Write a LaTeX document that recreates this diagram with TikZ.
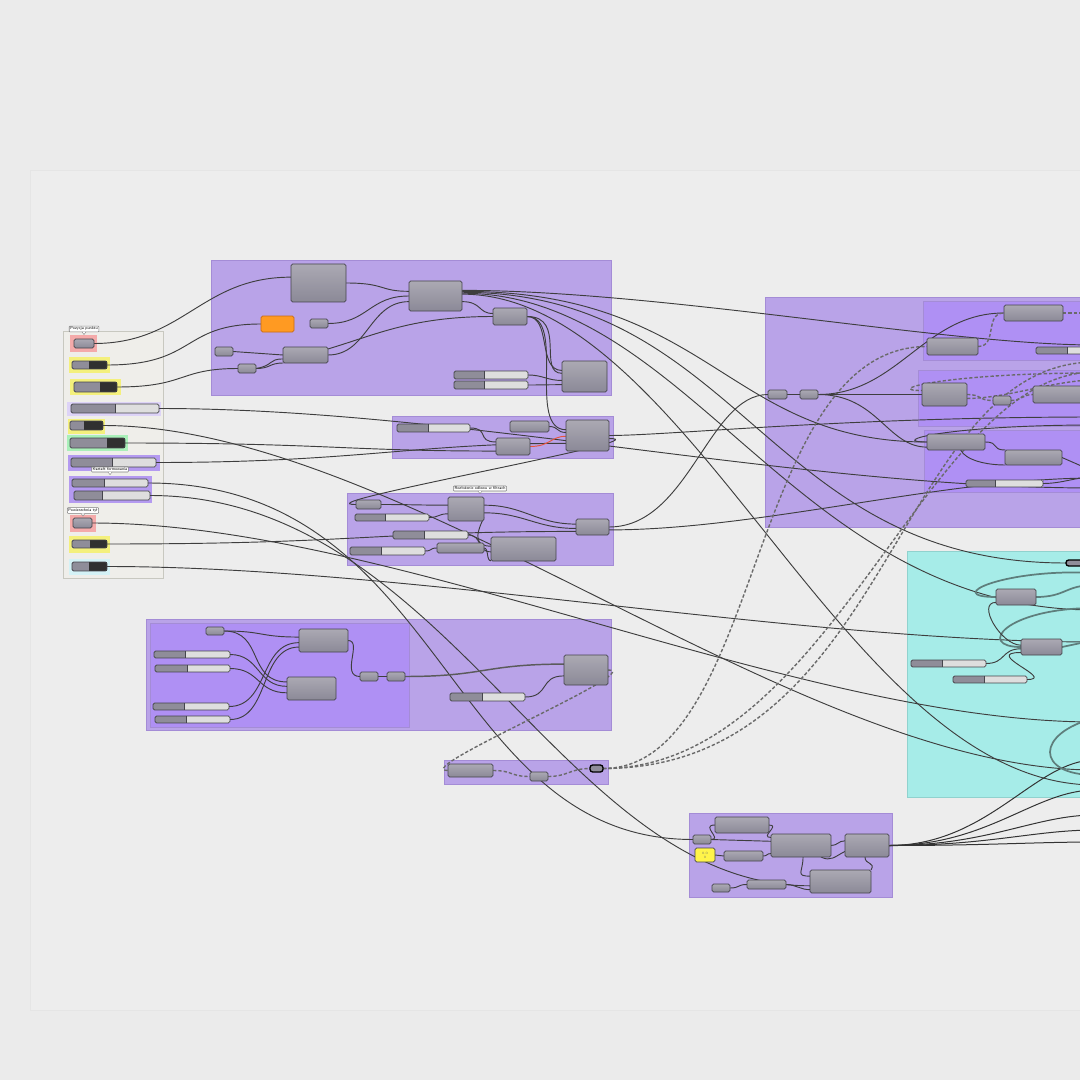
\documentclass[tikz,border=0pt]{standalone}
\usetikzlibrary{calc}
\definecolor{bgc}{HTML}{EBEBEB}
\definecolor{canv}{HTML}{EDEDED}
\definecolor{grp}{HTML}{B9A3E8}
\definecolor{grpd}{HTML}{A48CD6}
\definecolor{grpinc}{HTML}{AF90F4}
\definecolor{cyg}{HTML}{A6ECE8}
\definecolor{cygd}{HTML}{90D2CE}
\definecolor{pan}{HTML}{EFEEEA}
\definecolor{pand}{HTML}{C8C8C0}
\definecolor{pinkb}{HTML}{F4AAAA}
\definecolor{yelb}{HTML}{F4F07C}
\definecolor{greenb}{HTML}{A9F0B9}
\definecolor{lpurb}{HTML}{DDD3F7}
\definecolor{purb}{HTML}{B49AF0}
\definecolor{lcyb}{HTML}{D4F2F6}
\definecolor{comptop}{HTML}{ABA9B3}
\definecolor{compbot}{HTML}{8B8997}
\definecolor{compline}{HTML}{45454C}
\definecolor{sldark}{HTML}{8F8D99}
\definecolor{sllight}{HTML}{DEDEDE}
\definecolor{tgdark}{HTML}{303030}
\definecolor{wirec}{HTML}{3E3E3E}
\definecolor{dashc}{HTML}{6A6A6A}
\definecolor{tealw}{HTML}{5E7E7C}
\definecolor{redw}{HTML}{E8553C}
\definecolor{orb}{HTML}{FF9A22}
\definecolor{ord}{HTML}{C86A12}
\definecolor{ypan}{HTML}{FFF44A}
\pgfdeclarelayer{bgl}
\pgfdeclarelayer{wl}
\pgfsetlayers{bgl,wl,main}
\newcommand{\gbox}[6][comp]{\node[#1,minimum width={(#4-#2)*0.75pt},minimum height={(#5-#3)*0.75pt}] (#6) at ({(#2+#4)/2},{(#3+#5)/2}) {};}
\newcommand{\gslider}[6]{%
 \fill[sllight] (#1,#2) rectangle (#3,#4);
 \fill[sldark] (#1,#2) rectangle (#5,#4);
 \draw[compline,line width=0.4pt] (#5,#2) -- (#5,#4);
 \node[gframe,minimum width={(#3-#1)*0.75pt},minimum height={(#4-#2)*0.75pt}] (#6) at ({(#1+#3)/2},{(#2+#4)/2}) {};}
\newcommand{\gtoggle}[6]{%
 \fill[sldark] (#1,#2) rectangle (#5,#4);
 \fill[tgdark] (#5,#2) rectangle (#3,#4);
 \node[gframe,minimum width={(#3-#1)*0.75pt},minimum height={(#4-#2)*0.75pt}] (#6) at ({(#1+#3)/2},{(#2+#4)/2}) {};}
\begin{document}
\begin{tikzpicture}[x=0.75pt,y=-0.75pt,
 gframe/.style={draw=compline,line width=0.55pt,rounded corners=1.2pt,inner sep=0pt,outer sep=0pt},
 comp/.style={gframe,top color=comptop,bottom color=compbot},
 orangebox/.style={gframe,fill=orb,draw=ord},
 ypanel/.style={gframe,fill=ypan,draw=compline,font=\fontsize{2.5}{3}\selectfont,text=black!60},
 capsule/.style={gframe,fill=sldark,draw=black,line width=1pt,rounded corners=2pt},
 wire/.style={draw=wirec,line width=0.7pt},
 dwire/.style={draw=dashc,line width=1.05pt,dash pattern=on 2.5pt off 1.5pt},
 twire/.style={draw=tealw,line width=1.3pt},
 grpbox/.style={fill=grp,draw=grpd,line width=0.6pt},
 innerbox/.style={fill=grpinc,draw=grpd,line width=0.5pt},
 cybox/.style={fill=cyg,draw=cygd,line width=0.6pt},
 lbl/.style={draw=gray,fill=white,font=\fontsize{3}{3.5}\selectfont\sffamily,inner sep=0.8pt,rounded corners=0.5pt}]
\useasboundingbox (0,0) rectangle (1080,1080);
\clip (0,0) rectangle (1080,1080);
\begin{pgfonlayer}{bgl}
\fill[bgc] (0,0) rectangle (1080,1080);
\draw[fill=canv,draw=black!10] (30,170) rectangle (1095,1010);
% groups
\draw[grpbox] (211,260) rectangle (611,395);
\draw[grpbox] (392,416) rectangle (613,458);
\draw[grpbox] (347,493) rectangle (613,565);
\draw[grpbox] (146,619) rectangle (611,730);
\draw[innerbox] (150,623) rectangle (409,727);
\draw[grpbox] (444,760) rectangle (608,784);
\draw[grpbox] (689,813) rectangle (892,897);
\draw[grpbox] (765,297) rectangle (1095,527);
\draw[innerbox] (923,301) rectangle (1095,360);
\draw[innerbox] (918,370) rectangle (1095,426);
\draw[innerbox] (924,430) rectangle (1095,492);
\draw[cybox] (907,551) rectangle (1095,797);
% left panel
\draw[fill=pan,draw=pand,line width=0.6pt] (63,331) rectangle (163,578);
\fill[pinkb] (70,335) rectangle (97,352);
\fill[yelb] (69,357) rectangle (110,373);
\fill[yelb] (70,379) rectangle (121,395);
\fill[lpurb] (67,402) rectangle (161,416);
\fill[yelb] (68,419) rectangle (105,434);
\fill[greenb] (67,435) rectangle (128,451);
\fill[purb] (68,455) rectangle (160,471);
\fill[purb] (69,476) rectangle (152,503);
\fill[pinkb] (70,515) rectangle (96,532);
\fill[yelb] (69,536) rectangle (110,553);
\fill[lcyb] (69,559) rectangle (110,575);
\end{pgfonlayer}
% ---------- components
% left panel
\gbox{74}{339}{94}{348}{btnA}
\gtoggle{72}{361}{107}{369}{89}{togA}
\gtoggle{74}{382}{117}{392}{100}{togB}
\gslider{71}{404}{159}{413}{115}{slA}
\gtoggle{70}{421}{103}{430}{84}{togC}
\gtoggle{70}{438}{125}{448}{107}{togD}
\gslider{71}{458}{156}{467}{112}{slB}
\gslider{72}{479}{148}{487}{104}{slC}
\gslider{74}{491}{150}{500}{102}{slD}
\gbox{73}{518}{92}{528}{btnB}
\gtoggle{72}{540}{107}{548}{90}{togE}
\gtoggle{72}{562}{107}{571}{89}{togF}
% group A
\gbox{291}{264}{346}{302}{aBig}
\gbox[orangebox]{261}{316}{294}{332}{aOr}
\gbox{310}{319}{328}{328}{aS1}
\gbox{409}{281}{462}{311}{aMid}
\gbox{493}{308}{527}{325}{aR}
\gbox{215}{347}{233}{356}{aS2}
\gbox{238}{364}{256}{373}{aS3}
\gbox{283}{347}{328}{363}{aL}
\gslider{454}{371}{528}{379}{484}{aSl1}
\gslider{454}{381}{528}{389}{484}{aSl2}
\gbox{562}{361}{607}{392}{aOut}
% group B
\gslider{397}{424}{470}{432}{428}{bSl}
\gbox{510}{421}{549}{432}{bT}
\gbox{496}{438}{530}{455}{bM}
\gbox{566}{420}{609}{451}{bOut}
% group C
\gbox{356}{500}{381}{509}{cS}
\gslider{355}{514}{429}{521}{385}{cSl1}
\gbox{448}{497}{484}{521}{cA}
\gbox{576}{519}{609}{535}{cOut}
\gslider{393}{531}{468}{539}{424}{cSl2}
\gbox{437}{543}{484}{553}{cB}
\gbox{491}{537}{556}{561}{cC}
\gslider{350}{547}{425}{555}{381}{cSl3}
% group D
\gbox{206}{627}{224}{635}{dS}
\gbox{299}{629}{348}{652}{dA}
\gslider{154}{651}{230}{658}{185}{dSl1}
\gslider{155}{665}{230}{672}{187}{dSl2}
\gslider{153}{703}{229}{710}{184}{dSl3}
\gslider{155}{716}{230}{723}{186}{dSl4}
\gbox{287}{677}{336}{700}{dB}
\gbox{360}{672}{378}{681}{dS2}
\gbox{387}{672}{405}{681}{dS3}
\gbox{564}{655}{608}{685}{dOut}
\gslider{450}{693}{525}{701}{482}{dSl5}
% group E
\gbox{448}{764}{493}{777}{eA}
\gbox{530}{772}{548}{781}{eS}
\gbox[capsule]{590}{765}{603}{772}{eC}
% group F
\gbox{715}{817}{769}{833}{fA}
\gbox{693}{835}{711}{844}{fS1}
\node[ypanel,minimum width=15pt,minimum height=10.5pt,align=center] (fY) at (705,855) {0.0\\0};
\gbox{724}{851}{763}{861}{fB}
\gbox{771}{834}{831}{857}{fC}
\gbox{845}{834}{889}{857}{fD}
\gbox{810}{870}{871}{893}{fE}
\gbox{712}{884}{730}{892}{fS2}
\gbox{747}{880}{786}{889}{fF}
% group G
\gbox{768}{390}{787}{399}{gS1}
\gbox{800}{390}{818}{399}{gS2}
\gbox{927}{338}{978}{355}{gA}
\gbox{1004}{305}{1063}{321}{gB}
\gslider{1036}{347}{1095}{354}{1067}{gSl1}
\gbox{922}{383}{967}{406}{gC}
\gbox{993}{396}{1011}{405}{gD}
\gbox{1033}{386}{1100}{403}{gE}
\gbox{927}{434}{985}{450}{gF}
\gbox{1005}{450}{1062}{465}{gG}
\gslider{966}{480}{1043}{487}{995}{gSl2}
% group H (cyan)
\gbox{996}{589}{1036}{605}{hA}
\gbox{1021}{639}{1062}{655}{hB}
\gslider{911}{660}{986}{667}{942}{hSl1}
\gslider{953}{676}{1027}{683}{984}{hSl2}
\gbox[capsule]{1066}{560}{1084}{566}{hC}
% labels
\node[lbl] (lab1) at (84,329) {Pozycja punktu};
\node[lbl] (lab2) at (480,488.5) {Rozłożenie odlewu w filtrach};
\node[lbl] (lab3) at (110,469.5) {Kształt formowania};
\node[lbl] (lab4) at (83,510.5) {Powierzchnia tył};
\foreach \l in {lab1,lab2,lab3,lab4}{
 \draw[gray,fill=white,line width=0.3pt] ($(\l.south)+(-1.5pt,0.2pt)$) -- ++(1.5pt,-2pt) -- ++(1.5pt,2pt);}
% off-canvas ends
\coordinate (oSlA) at (1095,488);
\coordinate (o1) at (1095,345);
\coordinate (o2) at (1095,610);
\coordinate (o3) at (1095,785);
\coordinate (o4) at (1095,417);
\coordinate (o5) at (1095,478);
\coordinate (o6) at (1095,722);
\coordinate (o7) at (1095,770);
\coordinate (o8) at (1095,642);
\coordinate (o9) at (1095,372);
\coordinate (o10) at (1095,362);
\coordinate (o11) at (1095,313);
\coordinate (o12) at (1095,373);
\coordinate (o13) at (1095,380);
\coordinate (o14) at (1095,425);
\coordinate (o15) at (1095,472);
\coordinate (o16) at (1095,477);
\coordinate (o17) at (1095,760);
\coordinate (o18) at (1095,790);
\coordinate (o19) at (1095,815);
\coordinate (o20) at (1095,830);
\coordinate (o21) at (1095,842);
\coordinate (o22) at (1095,573);
\coordinate (o23) at (1095,585);
\coordinate (o24) at (1095,608);
\coordinate (o25) at (1095,640);
\coordinate (o26) at (1095,718);
\coordinate (o27) at (1095,775);
% ---------- wires
\begin{pgfonlayer}{wl}
% left panel
\draw[wire] (btnA.east) .. controls +(90,0) and +(-90,0) .. (aBig.168);
\draw[wire] (togA.east) .. controls +(90,0) and +(-80,0) .. (aOr.west);
\draw[wire] (togB.east) .. controls +(70,0) and +(-60,0) .. (aS3.west);
\draw[wire] (slA.east) .. controls +(300,0) and +(-300,0) .. (oSlA);
\draw[wire] (togC.east) .. controls +(300,0) and +(-300,0) .. (o7);
\draw[wire] (togD.east) .. controls +(200,0) and +(-150,0) .. (bM.195);
\draw[wire] (slB.east) .. controls +(200,0) and +(-150,0) .. (bOut.200);
\draw[wire] (slC.east) .. controls +(300,0) and +(-250,0) .. (fS1.west);
\draw[wire] (slD.east) .. controls +(300,0) and +(-250,0) .. (fE.188);
\draw[wire] (btnB.east) .. controls +(300,0) and +(-300,0) .. (o6);
\draw[wire] (togE.east) .. controls +(250,0) and +(-200,0) .. (cOut.195);
\draw[wire] (togF.east) .. controls +(300,0) and +(-300,0) .. (o8);
% group A
\draw[wire] (aBig.east) .. controls +(40,0) and +(-30,0) .. (aMid.170);
\draw[wire] (aS1.east) .. controls +(40,0) and +(-40,0) .. (aMid.west);
\draw[wire] (aL.east) .. controls +(40,0) and +(-40,0) .. (aMid.192);
\draw[wire] (aL.15) .. controls +(50,-15) and +(-80,0) .. (aR.west);
\draw[wire] (aS2.east) -- (aL.west);
\draw[wire] (aS3.east) .. controls +(15,0) and +(-15,0) .. (aL.200);
\draw[wire] (aS3.east) .. controls +(18,-3) and +(-15,0) .. (aL.190);
\draw[wire] (aMid.-12) .. controls +(20,0) and +(-15,0) .. (aR.170);
\draw[wire] (aR.east) .. controls +(25,0) and +(-25,0) .. (aOut.165);
\draw[wire] (aR.east) .. controls +(40,0) and +(-25,0) .. (aOut.172);
\draw[wire] (aR.east) .. controls +(40,0) and +(-40,0) .. (bOut.165);
\draw[wire] (aSl1.east) .. controls +(15,0) and +(-15,0) .. (aOut.190);
\draw[wire] (aSl2.east) .. controls +(15,0) and +(-15,0) .. (aOut.200);
\draw[wire] (aMid.12) .. controls +(200,0) and +(-150,0) .. (o1);
\draw[wire] (aMid.10) .. controls +(250,0) and +(-200,0) .. (gF.west);
\draw[wire] (aMid.8) .. controls +(280,0) and +(-300,0) .. (hC.west);
\draw[wire] (aMid.6) .. controls +(230,0) and +(-300,0) .. (o2);
\draw[wire] (aMid.4) .. controls +(230,0) and +(-250,0) .. (o3);
% group B
\draw[wire] (bSl.east) .. controls +(20,0) and +(-20,0) .. (bM.165);
\draw[wire] (bT.east) .. controls +(10,0) and +(-10,0) .. (bOut.172);
\draw[wire,draw=redw] (bM.east) .. controls +(20,0) and +(-15,0) .. (bOut.182);
\draw[wire] (bOut.east) .. controls +(60,0) and +(-250,0) .. (o4);
\draw[wire] (bOut.-8) .. controls +(60,0) and +(-60,0) .. (cS.west);
% group C
\draw[wire] (cS.east) .. controls +(30,0) and +(-30,0) .. (cA.168);
\draw[wire] (cSl1.east) .. controls +(10,0) and +(-10,0) .. (cA.195);
\draw[wire] (cA.12) .. controls +(40,0) and +(-40,0) .. (cOut.170);
\draw[wire] (cA.-12) .. controls +(40,0) and +(-40,0) .. (cOut.185);
\draw[wire] (cA.-25) .. controls +(-10,20) and +(-15,0) .. (cC.175);
\draw[wire] (cSl2.east) .. controls +(15,0) and +(-15,0) .. (cC.185);
\draw[wire] (cB.east) .. controls +(5,0) and +(-5,0) .. (cC.200);
\draw[wire] (cSl3.east) .. controls +(8,0) and +(-8,0) .. (cB.west);
\draw[wire] (cOut.east) .. controls +(80,0) and +(-60,0) .. (gS1.west);
\draw[wire] (cOut.-10) .. controls +(150,0) and +(-150,0) .. (o5);
% group D
\draw[wire] (dS.east) .. controls +(40,0) and +(-40,0) .. (dA.172);
\draw[wire] (dS.east) .. controls +(40,0) and +(-40,0) .. (dB.165);
\draw[wire] (dSl1.east) .. controls +(30,0) and +(-30,0) .. (dB.175);
\draw[wire] (dSl2.east) .. controls +(30,0) and +(-30,0) .. (dB.190);
\draw[wire] (dSl3.east) .. controls +(40,0) and +(-40,0) .. (dA.185);
\draw[wire] (dSl4.east) .. controls +(40,0) and +(-40,0) .. (dA.195);
\draw[wire] (dA.east) .. controls +(15,0) and +(-20,0) .. (dS2.west);
\draw[wire] (dS2.east) -- (dS3.west);
\draw[wire,line width=1.1pt,draw=wirec!85] (dS3.east) .. controls +(80,0) and +(-80,0) .. (dOut.165);
\draw[wire] (dSl5.east) .. controls +(25,0) and +(-25,0) .. (dOut.195);
% group E (dashed)
\draw[dwire] (dOut.east) .. controls +(40,0) and +(-40,0) .. (eA.west);
\draw[dwire] (eA.east) .. controls +(20,0) and +(-20,0) .. (eS.west);
\draw[dwire] (eS.east) .. controls +(20,0) and +(-20,0) .. (eC.west);
\draw[dwire] (eC.east) .. controls +(160,0) and +(-180,0) .. (gA.west);
\draw[dwire] (eC.east) .. controls +(230,0) and +(-170,0) .. (o9);
\draw[dwire] (eC.east) .. controls +(290,0) and +(-200,0) .. (o10);
% group G
\draw[wire] (gS1.east) -- (gS2.west);
\draw[wire] (gS2.east) .. controls +(80,0) and +(-80,0) .. (gB.west);
\draw[wire] (gS2.east) -- (gC.west);
\draw[wire] (gS2.east) .. controls +(60,0) and +(-40,0) .. (gF.190);
\draw[dwire] (gA.east) .. controls +(20,0) and +(-20,0) .. (gB.west);
\draw[dwire] (gB.east) -- (o11);
\draw[dwire] (gC.east) .. controls +(15,0) and +(-15,0) .. (gD.west);
\draw[dwire] (gD.east) .. controls +(10,0) and +(-10,0) .. (gE.west);
\draw[dwire] (o12) .. controls +(-150,0) and +(-40,0) .. (gC.170);
\draw[dwire] (gC.-10) .. controls +(40,0) and +(-40,0) .. (o13);
\draw[wire] (gF.east) .. controls +(15,0) and +(-15,0) .. (gG.165);
\draw[wire] (gF.-60) .. controls +(5,10) and +(-20,0) .. (gG.195);
\draw[wire] (o14) .. controls +(-150,0) and +(-40,0) .. (gF.west);
\draw[wire] (gG.east) -- (o15);
\draw[wire] (gSl2.east) .. controls +(20,0) and +(-20,0) .. (o16);
% group F
\draw[wire] (fS1.east) .. controls +(12,0) and +(-15,0) .. (fA.west);
\draw[wire] (fS1.east) .. controls +(30,0) and +(-30,0) .. (fC.172);
\draw[wire] (fA.east) .. controls +(12,0) and +(-12,0) .. (fC.165);
\draw[wire] (fY.east) -- (fB.west);
\draw[wire] (fB.east) .. controls +(5,0) and +(-5,0) .. (fC.195);
\draw[wire] (fC.east) .. controls +(7,0) and +(-7,0) .. (fD.168);
\draw[wire] (fC.-30) .. controls +(10,5) and +(-10,5) .. (fD.195);
\draw[wire] (fC.-80) .. controls +(0,15) and +(-15,0) .. (fE.170);
\draw[wire] (fD.-100) .. controls +(0,8) and +(5,-8) .. (fE.north east);
\draw[wire] (fS2.east) .. controls +(10,0) and +(-10,0) .. (fF.west);
\draw[wire] (fF.east) .. controls +(10,0) and +(-10,0) .. (fE.195);
\foreach \t in {o17,o18,o19,o20,o21}{
 \draw[wire,line width=0.75pt,draw=black!80] (fD.east) .. controls +(100,0) and +(-60,0) .. (\t);}
% group H (cyan)
\draw[twire] (o22) .. controls +(-90,-5) and +(-55,0) .. (hA.west);
\draw[twire] (hA.east) .. controls +(30,0) and +(-30,0) .. (o23);
\draw[twire] (o24) .. controls +(-90,0) and +(-45,0) .. (hB.west);
\draw[twire] (hB.east) -- (o25);
\draw[twire] (o26) .. controls +(-60,15) and +(-60,0) .. (o27);
\draw[wire] (hSl1.east) .. controls +(20,0) and +(-20,0) .. (hB.185);
\draw[wire] (hSl2.east) .. controls +(30,0) and +(-40,0) .. (hB.195);
\draw[wire] (hA.195) .. controls +(-20,0) and +(-20,0) .. (hB.175);
\end{pgfonlayer}
\end{tikzpicture}
\end{document}
